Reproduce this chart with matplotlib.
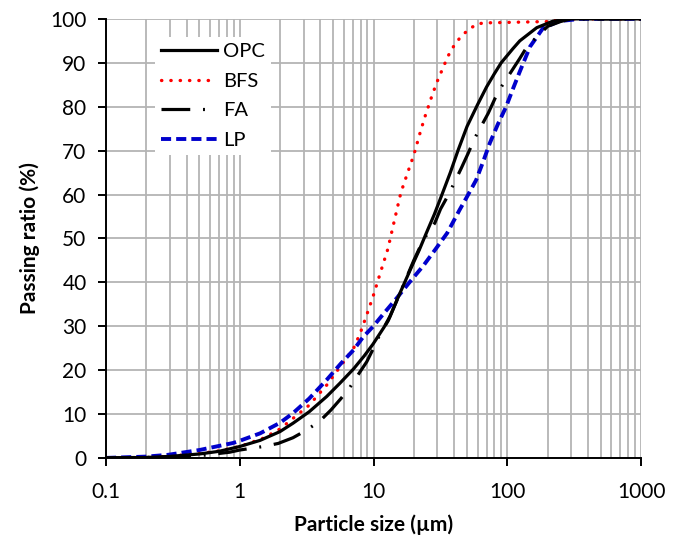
import matplotlib
matplotlib.use("Agg")
import matplotlib.pyplot as plt
from matplotlib.ticker import LogLocator, FixedLocator, NullFormatter

plt.rcParams['font.family'] = ['Lato', 'DejaVu Sans']

# particle size (um) and passing ratio (%)
opc_x = [0.1, 0.2, 0.3, 0.5, 0.7, 1.0, 1.42, 2.0, 2.5, 3.3, 4.47, 5.6, 7.1, 8.5,
         9.9, 12, 13.3, 16, 19.3, 22, 24.8, 28.5, 32.5, 37.5, 43, 50, 60, 70, 80,
         90, 110, 124, 166, 220, 300, 1000]
opc_y = [0, 0.1, 0.35, 0.9, 1.5, 2.6, 4.0, 6.0, 7.9, 10.5, 14, 17, 20.3, 23.2,
         25.9, 29.8, 32.3, 38, 43.6, 47.4, 51.2, 55.5, 60, 65, 70.2, 75.5, 80.5, 84.5, 87.5,
         90, 93.2, 95, 98, 99.5, 100, 100]

bfs_x = [0.1, 0.2, 0.3, 0.5, 0.7, 1.0, 1.5, 2.0, 2.5, 3.3, 4.47, 5.7, 7.1, 7.95,
         8.9, 9.9, 11.2, 12.8, 14.3, 16, 18, 20, 22.5, 24.4, 27, 29.5, 33, 36, 39.6,
         45, 52, 60, 70, 100, 200, 250, 1000]
bfs_y = [0, 0.1, 0.4, 1.0, 1.6, 2.6, 4.5, 6.6, 9.0, 12, 16.6, 21, 25, 28.4,
         32.6, 36.7, 42, 47.6, 54, 60.4, 65, 69, 74.5, 78, 82, 85.3, 88.8, 91.5, 93.7,
         96, 97.7, 98.9, 99.1, 99.2, 99.4, 100, 100]

fa_x = [0.1, 0.3, 0.5, 0.84, 1.0, 1.5, 1.94, 2.5, 3.1, 3.94, 4.8, 5.7, 6.6, 7.65,
        8.9, 10, 11.1, 12.9, 16, 20, 23.6, 28.7, 31.7, 36.4, 45.3, 51, 57, 72, 81,
        90.6, 124, 140, 200, 250, 300, 1000]
fa_y = [0, 0.2, 0.5, 1.3, 1.8, 2.6, 3.3, 4.6, 6.2, 8.3, 10.9, 13.5, 15.9, 18.9,
        21.9, 25, 28, 31.3, 38, 45, 49.7, 53.5, 56.7, 60, 66, 69.4, 72.8, 78.5, 81.9,
        84.6, 91, 93.6, 98.3, 99.4, 100, 100]

lp_x = [0.1, 0.2, 0.29, 0.5, 0.89, 1.0, 1.42, 2.0, 2.5, 3.3, 4.47, 5.7, 7.1, 8.34,
        9.9, 12, 15, 18.8, 23.6, 29, 35.5, 44, 50, 58.5, 66, 74, 85, 98, 110, 124,
        148, 185, 245, 350, 1000]
lp_y = [0, 0.3, 0.7, 1.8, 3.4, 3.9, 5.6, 8.0, 10.2, 13.5, 17.8, 21.5, 24.6, 27.5,
        29.9, 33, 36.5, 40.2, 43.8, 47.5, 51.2, 56.5, 59.5, 63.3, 67.5, 71.7, 76, 80, 84, 88,
        93.7, 97.9, 99.5, 100, 100]

fig = plt.figure(figsize=(6.86, 5.4), dpi=100)
ax = fig.add_axes([0.1545, 0.152, 0.78, 0.813])

ax.plot(opc_x, opc_y, color='black', lw=2.3, label='OPC', zorder=4)
ax.plot(bfs_x, bfs_y, color='#ff0000', lw=2.4, linestyle=(0, (0.1, 2.7)),
        dash_capstyle='round', label='BFS', zorder=3)
ax.plot(fa_x, fa_y, color='black', lw=2.3, linestyle=(0, (9, 4, 0.6, 4)),
        label='FA', zorder=4)
ax.plot(lp_x, lp_y, color='#0000cc', lw=2.8, linestyle=(0, (2.6, 1.3)),
        label='LP', zorder=3)

ax.set_xscale('log')
ax.set_xlim(0.1, 1000)
ax.set_ylim(0, 100)
ax.set_yticks(range(0, 101, 10))
ax.xaxis.set_major_locator(FixedLocator([0.1, 1, 10, 100, 1000]))
ax.set_xticklabels(['0.1', '1', '10', '100', '1000'])
ax.xaxis.set_minor_locator(LogLocator(base=10, subs=range(2, 10)))
ax.xaxis.set_minor_formatter(NullFormatter())

ax.grid(True, which='both', axis='x', color='#b4b4b4', lw=1.3)
ax.grid(True, which='major', axis='y', color='#b4b4b4', lw=1.3)
ax.set_axisbelow(True)

for s in ['top', 'right']:
    ax.spines[s].set_visible(False)
for s in ['left', 'bottom']:
    ax.spines[s].set_linewidth(1.4)
    ax.spines[s].set_zorder(5)

ax.tick_params(axis='both', which='major', direction='out', length=6, width=1.4,
               labelsize=15, colors='black')
ax.tick_params(axis='x', which='minor', length=0)
ax.tick_params(axis='x', which='major', pad=11)
ax.tick_params(axis='y', which='major', pad=8)

ax.set_xlabel('Particle size (µm)', fontsize=15, fontweight='bold', labelpad=9)
ax.set_ylabel('Passing ratio (%)', fontsize=15, fontweight='bold', labelpad=7)

leg = ax.legend(loc='upper left', bbox_to_anchor=(0.072, 0.982), fontsize=14.5,
                frameon=True, facecolor='white', edgecolor='none', framealpha=1,
                fancybox=False, handlelength=2.8, handletextpad=0.3,
                labelspacing=0.62, borderpad=0.3)

fig.savefig('out.png', dpi=100)
